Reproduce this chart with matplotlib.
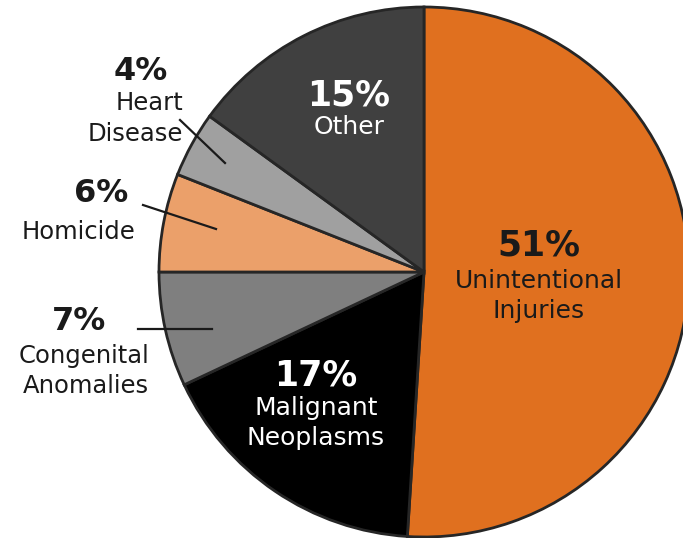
import matplotlib
matplotlib.use("Agg")
import matplotlib.pyplot as plt

categories = ["Unintentional\nInjuries", "Malignant\nNeoplasms", "Congenital\nAnomalies",
              "Homicide", "Heart\nDisease", "Other"]
values = [51, 17, 7, 6, 4, 15]
colors = ["#E0701F", "#000000", "#7F7F7F", "#EBA06A", "#A0A0A0", "#404040"]

W, H = 683, 538
fig = plt.figure(figsize=(W / 100, H / 100), dpi=100)
ax = fig.add_axes([0, 0, 1, 1])

cx, cy, r = 424, H - 272, 265
ax.pie(values, colors=colors, startangle=90, counterclock=False,
       center=(cx, cy), radius=r,
       wedgeprops=dict(edgecolor="#262626", linewidth=2))
ax.set_xlim(0, W)
ax.set_ylim(0, H)
ax.set_aspect("equal")
ax.axis("off")

FONT = "DejaVu Sans"
DARK = "#1a1a1a"

def label(x, y, pct, name, color, pct_size, name_size, gap, line_gap):
    ax.text(x, H - y, f"{pct}%", ha="center", va="center", fontsize=pct_size,
            fontweight="bold", color=color, family=FONT)
    for i, line in enumerate(name.split("\n")):
        ax.text(x, H - (y + gap + i * line_gap), line, ha="center", va="center",
                fontsize=name_size, color=color, family=FONT)

# inside labels
label(539, 246, values[0], categories[0], DARK, 25, 18, 35, 30)
label(316, 376, values[1], categories[1], "white", 25, 18, 32, 30)
label(349, 96, values[5], categories[5], "white", 25, 18, 31, 30)

# outside labels with leader lines
ax.text(141, H - 72, f"{values[4]}%", ha="center", va="center", fontsize=23,
        fontweight="bold", color=DARK, family=FONT)
ax.text(183, H - 103, "Heart", ha="right", va="center", fontsize=17.5, color=DARK, family=FONT)
ax.text(183, H - 134, "Disease", ha="right", va="center", fontsize=17.5, color=DARK, family=FONT)
ax.plot([180, 225], [H - 120, H - 163], color=DARK, lw=1.6)

ax.text(101, H - 193, f"{values[3]}%", ha="center", va="center", fontsize=23,
        fontweight="bold", color=DARK, family=FONT)
ax.text(79, H - 232, "Homicide", ha="center", va="center", fontsize=17.5, color=DARK, family=FONT)
ax.plot([143, 216], [H - 205, H - 229], color=DARK, lw=1.6)

ax.text(79, H - 322, f"{values[2]}%", ha="center", va="center", fontsize=23,
        fontweight="bold", color=DARK, family=FONT)
ax.text(84, H - 356, "Congenital", ha="center", va="center", fontsize=17.5, color=DARK, family=FONT)
ax.text(86, H - 386, "Anomalies", ha="center", va="center", fontsize=17.5, color=DARK, family=FONT)
ax.plot([138, 212], [H - 329, H - 329], color=DARK, lw=1.6)

fig.savefig("out.png", dpi=100)
